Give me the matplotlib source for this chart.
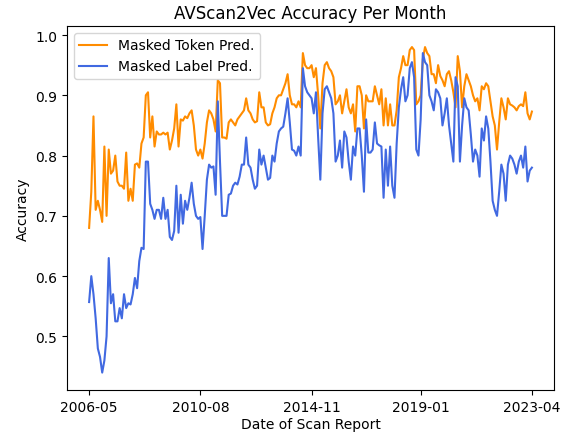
import numpy as np
import matplotlib
matplotlib.use("Agg")
import matplotlib.pyplot as plt

# monthly accuracy, 2006-05 .. 2023-04 (204 months)
token_acc = [
    0.68, 0.74, 0.865, 0.71, 0.725, 0.71, 0.69, 0.815, 0.70, 0.81, 0.77, 0.775,
    0.80, 0.757, 0.75, 0.75, 0.745, 0.805, 0.725, 0.745, 0.725, 0.785, 0.787, 0.78,
    0.82, 0.83, 0.90, 0.905, 0.83, 0.865, 0.815, 0.84, 0.835, 0.835, 0.838, 0.835,
    0.838, 0.81, 0.825, 0.845, 0.885, 0.815, 0.86, 0.858, 0.865, 0.862, 0.87, 0.875,
    0.85, 0.81, 0.80, 0.81, 0.795, 0.82, 0.855, 0.875, 0.87, 0.86, 0.84, 0.925,
    0.92, 0.83, 0.83, 0.828, 0.855, 0.86, 0.855, 0.85, 0.86, 0.865, 0.87, 0.875,
    0.895, 0.875, 0.87, 0.86, 0.855, 0.857, 0.905, 0.88, 0.88, 0.855, 0.85, 0.852,
    0.87, 0.88, 0.895, 0.90, 0.90, 0.91, 0.92, 0.935, 0.90, 0.885, 0.885, 0.88,
    0.89, 0.88, 0.97, 0.95, 0.945, 0.945, 0.95, 0.93, 0.945, 0.90, 0.845, 0.92,
    0.95, 0.955, 0.945, 0.94, 0.93, 0.885, 0.89, 0.90, 0.87, 0.89, 0.91, 0.88,
    0.87, 0.885, 0.84, 0.915, 0.915, 0.90, 0.845, 0.90, 0.89, 0.89, 0.89, 0.915,
    0.90, 0.885, 0.91, 0.85, 0.895, 0.85, 0.885, 0.85, 0.85, 0.875, 0.93, 0.945,
    0.965, 0.95, 0.95, 0.975, 0.98, 0.975, 0.885, 0.89, 0.90, 0.96, 0.98, 0.97,
    0.965, 0.935, 0.935, 0.92, 0.95, 0.932, 0.925, 0.915, 0.935, 0.94, 0.925, 0.905,
    0.88, 0.965, 0.94, 0.88, 0.915, 0.935, 0.925, 0.915, 0.90, 0.89, 0.895, 0.875,
    0.915, 0.91, 0.92, 0.915, 0.89, 0.865, 0.85, 0.81, 0.855, 0.895, 0.88, 0.86,
    0.895, 0.885, 0.883, 0.88, 0.875, 0.882, 0.885, 0.882, 0.905, 0.87, 0.86, 0.873,
]
label_acc = [
    0.557, 0.60, 0.57, 0.53, 0.48, 0.466, 0.44, 0.46, 0.50, 0.63, 0.555, 0.57,
    0.525, 0.525, 0.547, 0.53, 0.57, 0.547, 0.555, 0.553, 0.57, 0.597, 0.58, 0.625,
    0.647, 0.645, 0.79, 0.79, 0.72, 0.71, 0.695, 0.71, 0.71, 0.695, 0.73, 0.695,
    0.71, 0.665, 0.66, 0.675, 0.75, 0.672, 0.735, 0.687, 0.725, 0.71, 0.73, 0.755,
    0.72, 0.70, 0.695, 0.698, 0.645, 0.70, 0.76, 0.785, 0.78, 0.782, 0.735, 0.89,
    0.79, 0.70, 0.70, 0.70, 0.735, 0.737, 0.75, 0.755, 0.752, 0.765, 0.785, 0.785,
    0.83, 0.785, 0.78, 0.76, 0.745, 0.75, 0.81, 0.785, 0.80, 0.78, 0.76, 0.763,
    0.80, 0.79, 0.82, 0.84, 0.845, 0.848, 0.87, 0.895, 0.855, 0.81, 0.808, 0.80,
    0.815, 0.80, 0.945, 0.915, 0.905, 0.90, 0.895, 0.87, 0.905, 0.83, 0.76, 0.87,
    0.91, 0.915, 0.905, 0.895, 0.87, 0.79, 0.80, 0.825, 0.78, 0.84, 0.83, 0.79,
    0.76, 0.815, 0.80, 0.845, 0.845, 0.80, 0.74, 0.86, 0.805, 0.805, 0.81, 0.855,
    0.82, 0.817, 0.815, 0.73, 0.81, 0.75, 0.815, 0.75, 0.73, 0.82, 0.88, 0.91,
    0.93, 0.89, 0.90, 0.945, 0.955, 0.93, 0.81, 0.80, 0.86, 0.97, 0.955, 0.95,
    0.90, 0.89, 0.875, 0.91, 0.905, 0.895, 0.85, 0.87, 0.895, 0.85, 0.82, 0.79,
    0.93, 0.915, 0.79, 0.85, 0.895, 0.88, 0.875, 0.835, 0.79, 0.81, 0.80, 0.765,
    0.845, 0.825, 0.865, 0.845, 0.79, 0.725, 0.71, 0.70, 0.74, 0.785, 0.77, 0.725,
    0.785, 0.80, 0.795, 0.785, 0.77, 0.79, 0.80, 0.78, 0.815, 0.757, 0.775, 0.78,
]
tick_idx = [0, 51, 102, 152, 203]
tick_labels = ["2006-05", "2010-08", "2014-11", "2019-01", "2023-04"]

x = np.arange(len(token_acc))

fig, ax = plt.subplots(figsize=(5.7, 4.35), dpi=100)
fig.subplots_adjust(left=0.1175, right=0.972, top=0.938, bottom=0.101)

ax.plot(x, token_acc, color="darkorange", label="Masked Token Pred.")
ax.plot(x, label_acc, color="royalblue", label="Masked Label Pred.")

ax.set_xticks(tick_idx)
ax.set_xticklabels(tick_labels)
ax.set_ylim(0.411, 1.015)
ax.set_title("AVScan2Vec Accuracy Per Month")
ax.set_xlabel("Date of Scan Report", labelpad=2)
ax.set_ylabel("Accuracy")
ax.legend(loc="upper left")

fig.savefig("out.png")
